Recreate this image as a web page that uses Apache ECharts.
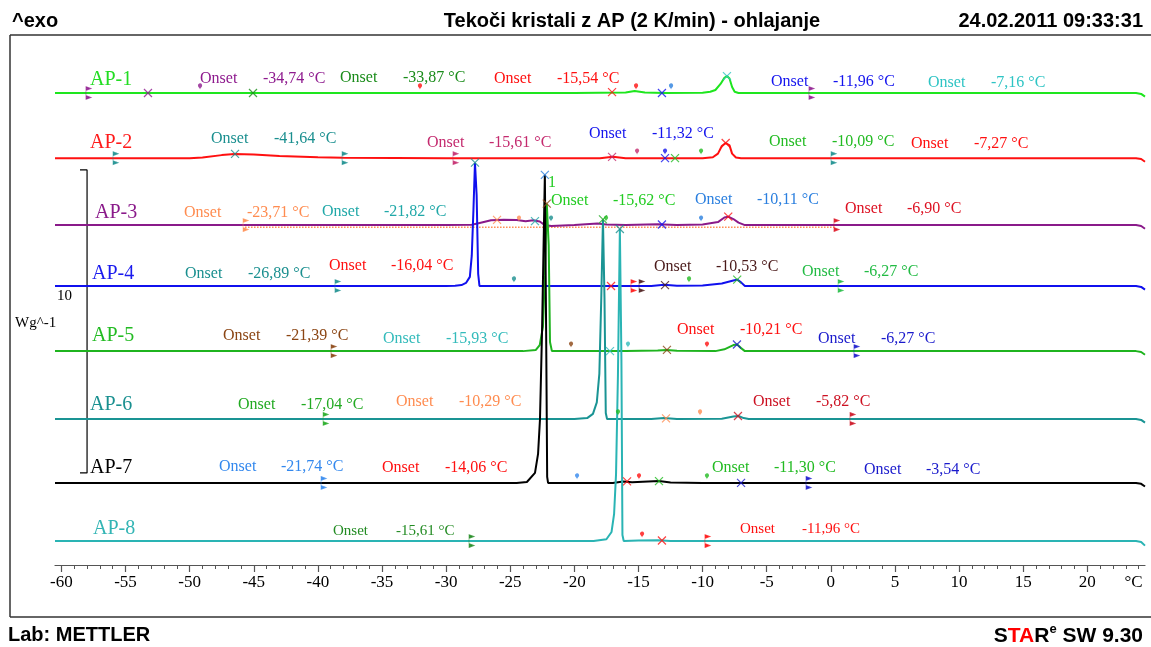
<!DOCTYPE html>
<html><head><meta charset="utf-8">
<script src="https://cdn.jsdelivr.net/npm/echarts@6/dist/echarts.min.js"></script>
<style>html,body{margin:0;padding:0;background:#fff}#c{width:1151px;height:647px}</style>
</head><body><div id="c"></div>
<script>
// ---------- DATA ----------
const seriesNames = ['AP-1','AP-2','AP-3','AP-4','AP-5','AP-6','AP-7','AP-8'];
// vertical displacement of each curve (W/g)
const baselineOffsets = [15.58, 13.43, 11.22, 9.21, 7.06, 4.82, 2.71, 0.79];
// heat flow (W/g, exo up) vs temperature (°C), relative to own baseline
const ap1 = [[-60.5,0],[-40,0],[-20,0],[-16,0.02],[-15.3,0.07],[-14.5,0.02],[-13,0],[-10,0.01],[-9.4,0.04],[-9.0,0.1],[-8.6,0.3],[-8.3,0.5],[-8.1,0.56],[-7.9,0.48],[-7.7,0.2],[-7.5,0.04],[-7.2,0],[0,0],[10,0],[23.8,0],[24.2,-0.03],[24.5,-0.12]];
const ap2 = [[-60.5,0],[-50,0],[-49,0.02],[-47.5,0.1],[-46.5,0.14],[-45,0.12],[-43,0.07],[-40,0.03],[-38,0.01],[-30,0],[-18,0],[-17,0.05],[-16,0],[-10,0],[-9.2,0.03],[-8.8,0.15],[-8.5,0.4],[-8.2,0.5],[-7.9,0.42],[-7.7,0.15],[-7.4,0.02],[-7,0],[23.8,0],[24.2,-0.03],[24.5,-0.12]];
const ap3 = [[-60.5,0],[-30,0],[-28,0.01],[-27.3,0.08],[-26.5,0.16],[-25.5,0.18],[-24.5,0.17],[-23.8,0.13],[-23.2,0.16],[-22.7,0.12],[-22.3,0.0],[-21.8,-0.03],[-20,0],[-18.2,0.05],[-17.5,0.02],[-16,0],[-13.5,0.03],[-12,0.0],[-10,0.02],[-8.8,0.1],[-8.3,0.25],[-8.0,0.28],[-7.6,0.2],[-7.2,0.08],[-6.7,0.0],[23.8,0],[24.2,-0.03],[24.5,-0.12]];
const ap4 = [[-60.5,0],[-40,0],[-30,0],[-29.3,0.01],[-28.8,0.03],[-28.45,0.1],[-28.15,0.3],[-28.0,1.0],[-27.87,2.5],[-27.75,4.07],[-27.62,3.0],[-27.5,0.4],[-27.4,0.0],[-20,0],[-14,0],[-13,0.04],[-12,0.01],[-10,0.02],[-8.5,0.08],[-7.6,0.18],[-7.3,0.21],[-7.0,0.12],[-6.7,0.0],[23.8,0],[24.2,-0.03],[24.5,-0.12]];
const ap5 = [[-60.5,0],[-30,0],[-24,0],[-23.0,0.04],[-22.7,0.2],[-22.45,0.8],[-22.3,2.5],[-22.15,4.87],[-22.0,3.5],[-21.9,0.3],[-21.75,0],[-16,0],[-13.5,0.02],[-12.8,0.04],[-12,0.01],[-9,0.0],[-8.3,0.06],[-7.6,0.2],[-7.3,0.22],[-7.0,0.1],[-6.7,0],[23.8,0],[24.2,-0.03],[24.5,-0.12]];
const ap6 = [[-60.5,0],[-30,0],[-20,0],[-19.0,0.03],[-18.55,0.17],[-18.25,0.55],[-18.05,1.5],[-17.9,4.0],[-17.77,6.59],[-17.65,4.0],[-17.55,0.2],[-17.45,0],[-14,0],[-13,0.03],[-12,0.0],[-8.5,0.01],[-7.6,0.08],[-7.2,0.1],[-6.8,0.03],[-6.4,0],[23.8,0],[24.2,-0.03],[24.5,-0.12]];
const ap7 = [[-60.5,0],[-30,0],[-24.5,0],[-23.7,0.03],[-23.07,0.33],[-22.83,0.96],[-22.68,2.1],[-22.52,5.0],[-22.3,10.17],[-22.2,5.0],[-22.12,0.2],[-22.05,0],[-17,0],[-16.2,0.05],[-15.5,0.02],[-13.4,0.06],[-12.5,0.01],[-10,0],[23.8,0],[24.2,-0.03],[24.5,-0.12]];
const ap8 = [[-60.5,0],[-30,0],[-18.5,0],[-17.5,0.06],[-17.1,0.3],[-16.9,0.9],[-16.75,2.2],[-16.6,5.5],[-16.45,10.3],[-16.33,6.0],[-16.25,0.2],[-16.15,0],[-15,0.02],[-13.5,0.03],[-12.5,0],[23.8,0],[24.2,-0.03],[24.5,-0.15]];
const curves = [ap1, ap2, ap3, ap4, ap5, ap6, ap7, ap8];
// integration baseline of AP-3 (dotted)
const ap3Integration = [[-45.68,-0.07],[0.40,-0.07]];

// axis tick labels
const tickLabels = [-60,-55,-50,-45,-40,-35,-30,-25,-20,-15,-10,-5,0,5,10,15,20];
const unitLabel = '°C';
const unitLabelAt = 23.6;

// y scale bar: 10 W/g
const scaleBar = {t: -58.0, from: 3.04, length: 10, label: '10', unit: 'Wg^-1'};

// onset evaluation results, per curve: [colorKey, value text]
const onsetValues = [
  [['purple','-34,74 °C'],['dgreen','-33,87 °C'],['red','-15,54 °C'],['blue','-11,96 °C'],['cyan','-7,16 °C']],
  [['teal','-41,64 °C'],['crimson','-15,61 °C'],['blue','-11,32 °C'],['green','-10,09 °C'],['red','-7,27 °C']],
  [['orange','-23,71 °C'],['cyan2','-21,82 °C'],['lgreen','-15,62 °C'],['sky','-10,11 °C'],['dred','-6,90 °C']],
  [['teal','-26,89 °C'],['red','-16,04 °C'],['dark','-10,53 °C'],['green2','-6,27 °C']],
  [['brown','-21,39 °C'],['cyan3','-15,93 °C'],['red','-10,21 °C'],['navy','-6,27 °C']],
  [['green3','-17,04 °C'],['orange','-10,29 °C'],['dred2','-5,82 °C']],
  [['lblue','-21,74 °C'],['red','-14,06 °C'],['green','-11,30 °C'],['navy','-3,54 °C']],
  [['fgreen','-15,61 °C'],['red','-11,96 °C']]
];
// peak (X) markers: [curve, T, height above baseline or null = peak maximum, colorKey]
const xMarkers = [
  [0,-53.25,0,'purple'],[0,-45.06,0,'dgreen'],[0,-17.06,0.03,'red'],[0,-13.17,0,'blue'],[0,-8.1,null,'cyan'],
  [1,-46.46,0.14,'teal'],[1,-17.06,0.04,'crimson'],[1,-12.93,0,'blue'],[1,-12.15,0,'green'],[1,-8.2,null,'red'],
  [2,-26.03,0.17,'orange'],[2,-23.07,0.13,'cyan2'],[2,-13.17,0.02,'blue'],[2,-8.0,null,'red'],
  [3,-27.75,null,'teal'],[3,-17.14,0,'red'],[3,-12.93,0.03,'dark'],[3,-7.3,0.21,'green'],
  [4,-22.15,null,'brown'],[4,-17.22,0,'cyan3'],[4,-12.78,0.04,'brown'],[4,-7.32,0.22,'navy'],
  [5,-17.77,null,'green3'],[5,-12.85,0.02,'orange'],[5,-7.24,0.1,'dred2'],
  [6,-22.3,null,'sky'],[6,-15.89,0.05,'red'],[6,-13.4,0.06,'green'],[6,-7.0,0,'navy'],
  [7,-16.45,null,'teal'],[7,-13.17,0.02,'red']
];
// evaluation limit flags: [curve, T, colorKey]
const limitFlags = [
  [0,-57.93,'purple'],[0,-1.55,'purple'],
  [1,-55.82,'teal'],[1,-37.96,'teal'],[1,-29.31,'crimson'],[1,0.17,'teal'],
  [2,-45.68,'orange'],[2,0.40,'dred'],
  [3,-38.51,'teal'],[3,-15.43,'red'],[3,-14.80,'dark'],[3,0.72,'green2'],
  [4,-38.82,'brown'],[4,1.96,'navy'],
  [5,-39.44,'green3'],[5,1.65,'dred2'],
  [6,-39.60,'lblue'],[6,-1.78,'navy'],
  [7,-28.06,'fgreen'],[7,-9.66,'red']
];
// evaluation pins: [curve, T, colorKey]
const pins = [
  [0,-49.19,'purple'],[0,-32.04,'red'],[0,-15.19,'red'],[0,-12.46,'sky'],
  [1,-15.11,'crimson'],[1,-12.93,'blue'],[1,-10.12,'green'],
  [2,-24.32,'orange'],[2,-21.82,'teal'],[2,-17.53,'green'],[2,-10.12,'sky'],
  [3,-24.71,'teal'],[3,-11.06,'green'],
  [4,-20.26,'brown'],[4,-15.82,'cyan3'],[4,-9.66,'red'],
  [5,-16.60,'green'],[5,-10.20,'orange'],
  [6,-19.79,'lblue'],[6,-14.96,'red'],[6,-9.66,'green'],
  [7,-14.72,'red']
];

// ---------- STYLE ----------
const lineColors = ['#1ee61e','#ff1010','#8a1a8a','#1010ee','#1fb41f','#1a9494','#000000','#2ab4b4'];
const labelColors = ['#22dd22','#ff1a1a','#8a1a8a','#1a1aee','#22bb22','#1a9090','#000000','#33b5b5'];
const palette = {
  purple:'#8e1a8e', dgreen:'#1a8c1a', red:'#ff1010', blue:'#1414ee', cyan:'#2ec4c4',
  teal:'#1a8f8f', crimson:'#c42a6e', green:'#22bb22', orange:'#ff8c50', cyan2:'#20a8a8',
  lgreen:'#22cc22', sky:'#2a7fdf', dred:'#dd1122', dark:'#4a1a1a', green2:'#22bb44',
  brown:'#8b4513', cyan3:'#33bbbb', navy:'#1a1acc', green3:'#22aa22', dred2:'#cc1122',
  lblue:'#3388ee', fgreen:'#228b22'
};
const apLabelPos = [[90,80],[90,143],[95,213],[92,274],[92,336],[90,405],[90,468],[93,529]];
const onsetLayout = [
  [[200,263,79],[340,403,78],[494,557,79],[771,833,82],[928,991,83]],
  [[211,274,139],[427,489,143],[589,652,134],[769,832,142],[911,974,144]],
  [[184,247,213],[322,384,212],[551,613,201],[695,757,200],[845,907,209]],
  [[185,248,274],[329,391,266],[654,716,267],[802,864,272]],
  [[223,286,336],[383,446,339],[677,740,330],[818,881,339]],
  [[238,301,405],[396,459,402],[753,816,402]],
  [[219,281,467],[382,445,468],[712,774,468],[864,926,470]],
  [[333,396,531],[740,802,529]]
];
const SERIF = '"Liberation Serif", "Times New Roman", serif';
const SANS = '"Liberation Sans", Arial, sans-serif';

// ---------- BUILD ----------
const peakOf = arr => arr.reduce((m, p) => Math.max(m, p[1]), -Infinity);
const series = [];
curves.forEach((c, i) => {
  series.push({
    name: seriesNames[i], type: 'line', data: c.map(p => [p[0], p[1] + baselineOffsets[i]]),
    showSymbol: false, symbol: 'none', smooth: false, z: 2 + i * 0.1,
    lineStyle: {color: lineColors[i], width: 2}, animation: false
  });
});
series.push({
  type: 'line', data: ap3Integration.map(p => [p[0], p[1] + baselineOffsets[2]]),
  symbol: 'none', lineStyle: {color: palette.orange, width: 1.5, type: 'dotted'}, z: 1, animation: false
});
const sbTop = scaleBar.from + scaleBar.length;
series.push({
  type: 'line', symbol: 'none', animation: false,
  data: [[scaleBar.t - 0.55, sbTop], [scaleBar.t, sbTop], [scaleBar.t, scaleBar.from], [scaleBar.t - 0.55, scaleBar.from]],
  lineStyle: {color: '#000', width: 1.2}, z: 1
});
series.push({
  type: 'scatter', animation: false, z: 5,
  symbol: 'path://M0,0L10,10M10,0L0,10', symbolSize: 8,
  data: xMarkers.map(m => ({
    value: [m[1], (m[2] === null ? peakOf(curves[m[0]]) : m[2]) + baselineOffsets[m[0]]],
    itemStyle: {color: 'rgba(0,0,0,0)', borderColor: palette[m[3]], borderWidth: 1.2}
  }))
});
series.push({
  type: 'scatter', animation: false, z: 5,
  symbol: 'path://M0,0L0,12M0,0L4,1.5L0,3ZM0,12L4,10.5L0,9Z', symbolSize: [4, 12],
  data: limitFlags.map(m => ({
    value: [m[1], baselineOffsets[m[0]]],
    itemStyle: {color: palette[m[2]], borderColor: palette[m[2]], borderWidth: 1}
  }))
});
series.push({
  type: 'scatter', animation: false, z: 5,
  symbol: 'pin', symbolSize: 7, symbolOffset: [0, '-50%'],
  data: pins.map(m => ({
    value: [m[1], baselineOffsets[m[0]]],
    itemStyle: {color: palette[m[2]]}
  }))
});

const minorTicks = [];
for (let t = -60; t <= 24; t++) minorTicks.push(t);

const graphic = [];
const frameStyle = {stroke: '#333', lineWidth: 1.5};
graphic.push({type: 'line', shape: {x1: 10, y1: 35, x2: 1151, y2: 35}, style: frameStyle, silent: true});
graphic.push({type: 'line', shape: {x1: 10, y1: 35, x2: 10, y2: 617}, style: frameStyle, silent: true});
graphic.push({type: 'line', shape: {x1: 10, y1: 617, x2: 1151, y2: 617}, style: frameStyle, silent: true});
function txt(s, x, y, font, fill, align) {
  return {type: 'text', x: x, y: y, silent: true, z: 10,
    style: {text: s, font: font, fill: fill, textAlign: align || 'left', textVerticalAlign: 'middle',
            align: align || 'left', verticalAlign: 'middle'}};
}
graphic.push(txt('^exo', 12, 21, 'bold 20px ' + SANS, '#000'));
graphic.push(txt('Tekoči kristali z AP (2 K/min) - ohlajanje', 632, 21, 'bold 20px ' + SANS, '#000', 'center'));
graphic.push(txt('24.02.2011 09:33:31', 1143, 21, 'bold 20px ' + SANS, '#000', 'right'));
graphic.push(txt('Lab: METTLER', 8, 635, 'bold 20px ' + SANS, '#000'));
graphic.push({type: 'text', x: 1143, y: 635, silent: true, z: 10,
  style: {text: '{b|S}{r|TA}{b|R}{s|e}{b| SW 9.30}', textAlign: 'right', textVerticalAlign: 'middle', align: 'right', verticalAlign: 'middle',
    rich: {
      b: {fontSize: 21, fontWeight: 'bold', fontFamily: SANS, fill: '#000', lineHeight: 24, verticalAlign: 'bottom'},
      r: {fontSize: 21, fontWeight: 'bold', fontFamily: SANS, fill: '#ff0000', lineHeight: 24, verticalAlign: 'bottom'},
      s: {fontSize: 13, fontWeight: 'bold', fontFamily: SANS, fill: '#000', lineHeight: 13, verticalAlign: 'top'}
    }}});
seriesNames.forEach((n, i) => {
  graphic.push(txt(n, apLabelPos[i][0], apLabelPos[i][1], '20px ' + SERIF, labelColors[i]));
});
onsetValues.forEach((row, i) => {
  row.forEach((o, j) => {
    const L = onsetLayout[i][j];
    const f = (i === 7 ? '15px ' : '16px ') + SERIF;
    graphic.push(txt('Onset', L[0], L[2], f, palette[o[0]]));
    graphic.push(txt(o[1], L[1], L[2], f, palette[o[0]]));
  });
});
graphic.push(txt('1', 548, 183, '16px ' + SERIF, palette.lgreen));
graphic.push(txt(scaleBar.label, 57, 296, '15px ' + SERIF, '#000'));
graphic.push(txt(scaleBar.unit, 15, 323, '15px ' + SERIF, '#000'));

const chart = echarts.init(document.getElementById('c'), null, {renderer: 'canvas'});
chart.setOption({
  backgroundColor: '#fff',
  animation: false,
  grid: {left: 55, right: 6, top: 40, bottom: 82},
  xAxis: [{
    type: 'value', min: -60.5, max: 24.5,
    axisLine: {show: true, lineStyle: {color: '#555', width: 1.2}},
    axisTick: {show: true, length: 7, customValues: tickLabels, lineStyle: {color: '#555', width: 1.2}},
    axisLabel: {show: true, customValues: tickLabels.concat([unitLabelAt]), margin: 9,
      formatter: v => (v === unitLabelAt ? unitLabel : String(v)),
      fontFamily: SERIF, fontSize: 17, color: '#000'},
    splitLine: {show: false}
  }, {
    type: 'value', min: -60.5, max: 24.5, position: 'bottom',
    axisLine: {show: false},
    axisTick: {show: true, length: 4, customValues: minorTicks, lineStyle: {color: '#555', width: 1}},
    axisLabel: {show: false},
    splitLine: {show: false}
  }],
  yAxis: {type: 'value', min: 0, max: 17.33, show: false, splitLine: {show: false}},
  series: series,
  graphic: graphic
});
</script>
</body></html>
